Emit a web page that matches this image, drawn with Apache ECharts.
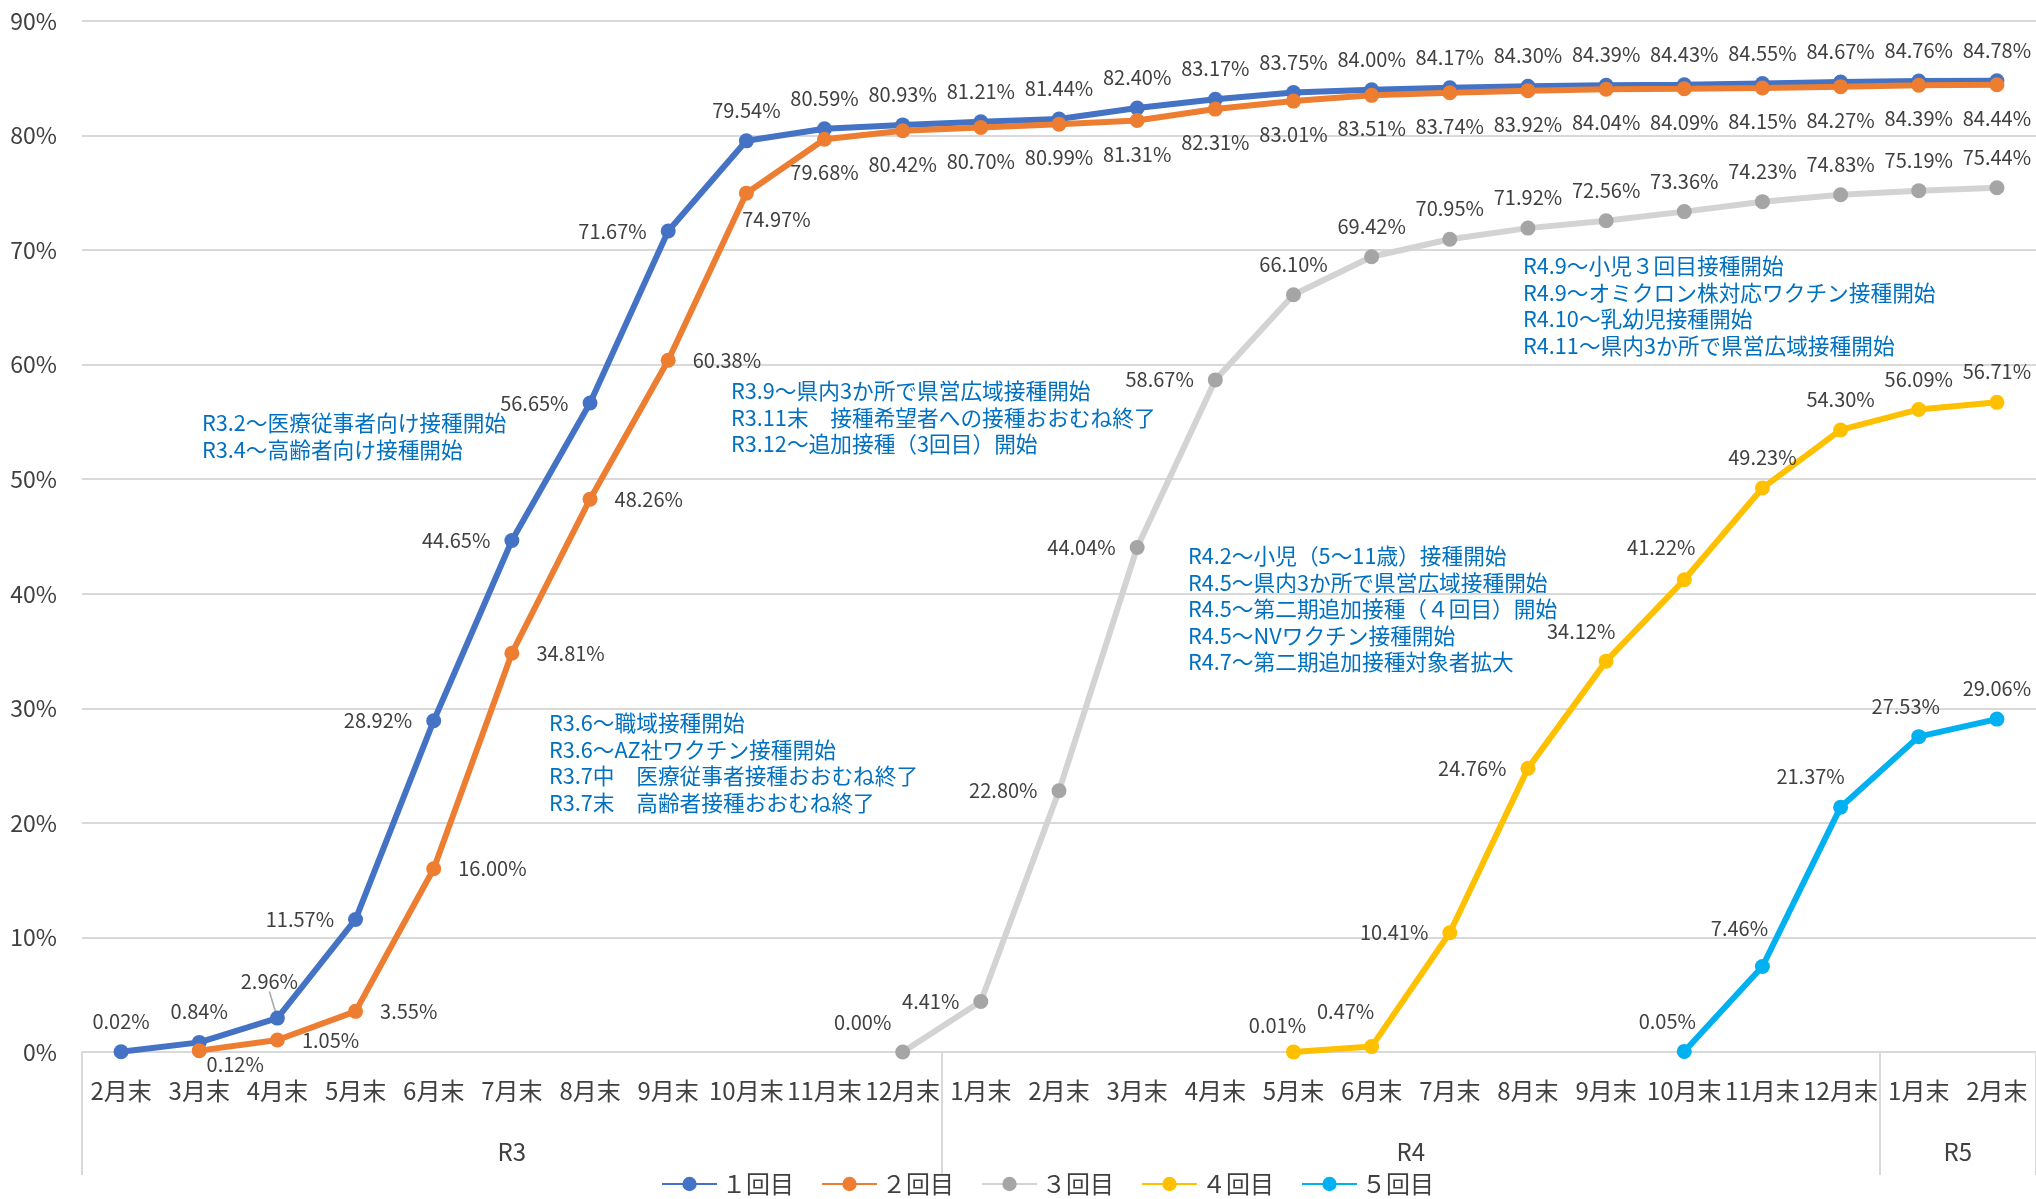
<!DOCTYPE html>
<html lang="ja">
<head>
<meta charset="utf-8">
<title>ワクチン接種率の推移</title>
<script src="https://cdn.jsdelivr.net/npm/echarts@6/dist/echarts.min.js"></script>
<style>
  html, body { margin: 0; padding: 0; background: #ffffff; }
  #chart { width: 2036px; height: 1199px; }
</style>
</head>
<body>
<div id="chart"></div>
<script>
// Month-end categories, grouped by fiscal era
const r3Months = ['2月末', '3月末', '4月末', '5月末', '6月末', '7月末', '8月末', '9月末', '10月末', '11月末', '12月末'];
const r4Months = ['1月末', '2月末', '3月末', '4月末', '5月末', '6月末', '7月末', '8月末', '9月末', '10月末', '11月末', '12月末'];
const r5Months = ['1月末', '2月末'];
const eraNames = ['R3', 'R4', 'R5'];

const seriesNames = ['１回目', '２回目', '３回目', '４回目', '５回目'];

// Cumulative vaccination rate (%) at each month end
const dose1 = [0.02, 0.84, 2.96, 11.57, 28.92, 44.65, 56.65, 71.67, 79.54, 80.59, 80.93,
  81.21, 81.44, 82.40, 83.17, 83.75, 84.00, 84.17, 84.30, 84.39, 84.43, 84.55, 84.67,
  84.76, 84.78];
const dose2 = [null, 0.12, 1.05, 3.55, 16.00, 34.81, 48.26, 60.38, 74.97, 79.68, 80.42,
  80.70, 80.99, 81.31, 82.31, 83.01, 83.51, 83.74, 83.92, 84.04, 84.09, 84.15, 84.27,
  84.39, 84.44];
const dose3 = [null, null, null, null, null, null, null, null, null, null, 0.00,
  4.41, 22.80, 44.04, 58.67, 66.10, 69.42, 70.95, 71.92, 72.56, 73.36, 74.23, 74.83,
  75.19, 75.44];
const dose4 = [null, null, null, null, null, null, null, null, null, null, null,
  null, null, null, null, 0.01, 0.47, 10.41, 24.76, 34.12, 41.22, 49.23, 54.30,
  56.09, 56.71];
const dose5 = [null, null, null, null, null, null, null, null, null, null, null,
  null, null, null, null, null, null, null, null, null, 0.05, 7.46, 21.37,
  27.53, 29.06];

// Event notes shown inside the plot
const notesA = ['R3.2～医療従事者向け接種開始', 'R3.4～高齢者向け接種開始'];
const notesB = ['R3.9～県内3か所で県営広域接種開始', 'R3.11末　接種希望者への接種おおむね終了', 'R3.12～追加接種（3回目）開始'];
const notesC = ['R3.6～職域接種開始', 'R3.6～AZ社ワクチン接種開始', 'R3.7中　医療従事者接種おおむね終了', 'R3.7末　高齢者接種おおむね終了'];
const notesD = ['R4.2～小児（5～11歳）接種開始', 'R4.5～県内3か所で県営広域接種開始', 'R4.5～第二期追加接種（４回目）開始', 'R4.5～NVワクチン接種開始', 'R4.7～第二期追加接種対象者拡大'];
const notesE = ['R4.9～小児３回目接種開始', 'R4.9～オミクロン株対応ワクチン接種開始', 'R4.10～乳幼児接種開始', 'R4.11～県内3か所で県営広域接種開始'];

// ---- presentation ----
const categories = [...r3Months, ...r4Months, ...r5Months];
const eraSizes = [r3Months.length, r4Months.length, r5Months.length];
const eraBounds = [0];
eraSizes.forEach(n => eraBounds.push(eraBounds[eraBounds.length - 1] + n));
const eraCenters = eraSizes.map((n, i) => eraBounds[i] + n / 2);

const FONT = '"Noto Sans CJK JP", "Noto Sans", sans-serif';
const TEXT = '#404040';
const GRID = '#D9D9D9';

// Where each value label sits relative to its point
const T = 'top', B = 'bottom', L = 'left', R = 'right';
const fill = (n, s) => Array(n).fill(s);
const place1 = [T, T, 'lead', L, L, L, L, L, ...fill(17, T)];
const place2 = [null, [36, 14], R, R, R, R, R, R, [30, 26], ...fill(16, B)];
const place3 = [...fill(10, null), [-40, -30], L, L, L, L, ...fill(10, T)];
const place4 = [...fill(15, null), [-16, -26], [-26, -35], L, L, [-25, -30], [-23, -32], T, T, T, T];
const place5 = [...fill(20, null), [-17, -30], [-23, -38], [-30, -31], [-13, -30], T];

function labelFor(p) {
  if (Array.isArray(p)) return { position: 'inside', offset: p };
  if (p === 'lead') return { position: 'top', distance: 13 };
  const distance = { top: 13, bottom: 16, left: 14, right: 17 }[p];
  return { position: p, distance };
}

function buildData(values, places) {
  return values.map((v, i) => {
    if (v == null) return '-';
    const item = { value: v, label: labelFor(places[i]) };
    if (places[i] === 'lead') item.labelLine = { show: true, lineStyle: { color: '#A6A6A6', width: 1.5 } };
    return item;
  });
}

function lineSeries(name, values, places, color, lineColor) {
  return {
    name,
    type: 'line',
    data: buildData(values, places),
    symbol: 'circle',
    symbolSize: 15,
    itemStyle: { color },
    lineStyle: { color: lineColor || color, width: 6 },
    label: {
      show: true,
      color: TEXT,
      fontFamily: FONT,
      fontSize: 20,
      formatter: p => Number(p.value).toFixed(2) + '%'
    },
    emphasis: { disabled: true },
    animation: false
  };
}

const s1 = lineSeries(seriesNames[0], dose1, place1, '#4472C4');
s1.labelLayout = function (params) {
  if (params.dataIndex === 2) return { dx: -8, dy: -6 };
};

function noteText(lines, left, top) {
  return {
    type: 'text',
    left, top,
    style: {
      text: lines.join('\n'),
      fill: '#0070C0',
      font: '21.7px ' + FONT,
      lineHeight: 26.5
    }
  };
}

const chart = echarts.init(document.getElementById('chart'), null, { renderer: 'canvas' });
chart.setOption({
  backgroundColor: '#ffffff',
  animation: false,
  grid: { left: 82, right: 0, top: 21, bottom: 147, containLabel: false },
  legend: {
    data: seriesNames,
    left: 656,
    top: 1167,
    itemWidth: 55,
    itemHeight: 18,
    itemGap: 27,
    textStyle: { color: TEXT, fontFamily: FONT, fontSize: 24 }
  },
  xAxis: [
    {
      type: 'category',
      data: categories,
      boundaryGap: true,
      axisLine: { show: true, lineStyle: { color: GRID, width: 2 } },
      axisTick: { show: false },
      axisLabel: { interval: 0, color: TEXT, fontFamily: FONT, fontSize: 24, margin: 27 }
    },
    {
      type: 'value',
      position: 'bottom',
      min: 0,
      max: categories.length,
      axisLine: { show: false },
      splitLine: { show: false },
      axisTick: {
        show: true,
        customValues: eraBounds,
        length: 123,
        lineStyle: { color: GRID, width: 2 }
      },
      axisLabel: {
        customValues: eraCenters,
        margin: 88,
        color: TEXT,
        fontFamily: FONT,
        fontSize: 24,
        formatter: v => eraNames[eraCenters.indexOf(v)]
      }
    }
  ],
  yAxis: {
    type: 'value',
    min: 0,
    max: 90,
    interval: 10,
    axisLine: { show: false },
    axisTick: { show: false },
    splitLine: { lineStyle: { color: GRID, width: 2 } },
    axisLabel: { formatter: '{value}%', color: TEXT, fontFamily: FONT, fontSize: 23, margin: 25 }
  },
  graphic: [
    noteText(notesA, 202, 410),
    noteText(notesB, 731, 378),
    noteText(notesC, 549, 710),
    noteText(notesD, 1188, 543),
    noteText(notesE, 1523, 253)
  ],
  series: [
    s1,
    lineSeries(seriesNames[1], dose2, place2, '#ED7D31'),
    lineSeries(seriesNames[2], dose3, place3, '#A5A5A5', '#D3D3D3'),
    lineSeries(seriesNames[3], dose4, place4, '#FFC000'),
    lineSeries(seriesNames[4], dose5, place5, '#00B0F0')
  ]
});
</script>
</body>
</html>
